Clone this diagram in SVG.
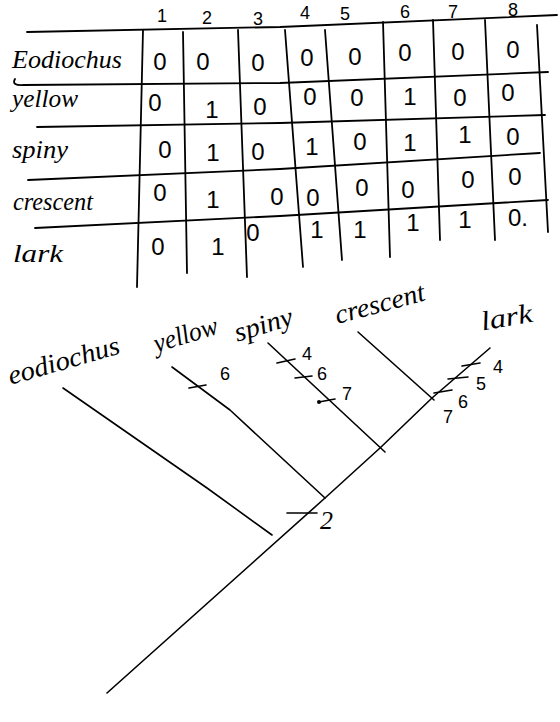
<svg xmlns="http://www.w3.org/2000/svg" width="560" height="722" viewBox="0 0 560 722">
<style>
.ln{fill:none;stroke:#000;stroke-width:1.8;stroke-linecap:round;stroke-linejoin:round}
.tr{fill:none;stroke:#000;stroke-width:1.6;stroke-linecap:round;stroke-linejoin:round}
.hw{font-family:"Liberation Serif","DejaVu Serif",serif;font-style:italic;fill:#000}
.lab{font-size:25px}
.dg{font-family:"Liberation Sans","DejaVu Sans",sans-serif;font-size:24px;fill:#000;text-anchor:middle}
.hd{font-family:"Liberation Sans","DejaVu Sans",sans-serif;font-size:18px;fill:#000;text-anchor:middle}
.tk{font-family:"Liberation Sans","DejaVu Sans",sans-serif;font-size:18px;fill:#000;text-anchor:middle}
</style>
<rect width="560" height="722" fill="#fff"/>
<g id="table">
  <g id="grid">
    <polyline class="ln" points="27,32 280,27 557,15"/>
    <path class="ln" d="M15,79 Q11,86 24,85 L280,83 L548,72"/>
    <polyline class="ln" points="37,127 280,123 545,115"/>
    <polyline class="ln" points="28,180 280,169 540,153"/>
    <polyline class="ln" points="35,228 280,216 548,200"/>
    <line class="ln" x1="143" y1="30" x2="137" y2="287"/>
    <line class="ln" x1="183" y1="32" x2="187" y2="273"/>
    <line class="ln" x1="238" y1="30" x2="247" y2="277"/>
    <line class="ln" x1="285" y1="30" x2="303" y2="267"/>
    <line class="ln" x1="325" y1="30" x2="342" y2="260"/>
    <line class="ln" x1="383" y1="22" x2="390" y2="257"/>
    <line class="ln" x1="433" y1="20" x2="440" y2="240"/>
    <line class="ln" x1="485" y1="20" x2="495" y2="240"/>
    <line class="ln" x1="537" y1="25" x2="548" y2="232"/>
  </g>
  <g id="header">
    <text class="hd" x="162" y="22">1</text>
    <text class="hd" x="207" y="24">2</text>
    <text class="hd" x="258" y="25">3</text>
    <text class="hd" x="305" y="19">4</text>
    <text class="hd" x="345" y="20">5</text>
    <text class="hd" x="405" y="18">6</text>
    <text class="hd" x="453" y="18">7</text>
    <text class="hd" x="513" y="16">8</text>
  </g>
  <g id="row-eodiochus">
    <text class="hw lab" x="12" y="68" textLength="110" lengthAdjust="spacingAndGlyphs">Eodiochus</text>
    <text class="dg" x="160" y="70">0</text><text class="dg" x="203" y="70">0</text><text class="dg" x="258" y="71">0</text><text class="dg" x="307" y="66">0</text><text class="dg" x="355" y="65">0</text><text class="dg" x="405" y="61">0</text><text class="dg" x="458" y="60">0</text><text class="dg" x="513" y="58">0</text>
  </g>
  <g id="row-yellow">
    <text class="hw lab" x="12" y="107" textLength="66" lengthAdjust="spacingAndGlyphs">yellow</text>
    <text class="dg" x="155" y="111">0</text><text class="dg" x="212" y="118">1</text><text class="dg" x="260" y="115">0</text><text class="dg" x="310" y="105">0</text><text class="dg" x="357" y="106">0</text><text class="dg" x="410" y="105">1</text><text class="dg" x="460" y="106">0</text><text class="dg" x="508" y="101">0</text>
  </g>
  <g id="row-spiny">
    <text class="hw lab" x="12" y="158" textLength="56" lengthAdjust="spacingAndGlyphs">spiny</text>
    <text class="dg" x="165" y="158">0</text><text class="dg" x="213" y="161">1</text><text class="dg" x="258" y="160">0</text><text class="dg" x="312" y="155">1</text><text class="dg" x="360" y="150">0</text><text class="dg" x="410" y="151">1</text><text class="dg" x="465" y="143">1</text><text class="dg" x="513" y="145">0</text>
  </g>
  <g id="row-crescent">
    <text class="hw lab" x="13" y="210" textLength="80" lengthAdjust="spacingAndGlyphs">crescent</text>
    <text class="dg" x="160" y="201">0</text><text class="dg" x="213" y="208">1</text><text class="dg" x="277" y="205">0</text><text class="dg" x="313" y="206">0</text><text class="dg" x="362" y="196">0</text><text class="dg" x="408" y="198">0</text><text class="dg" x="468" y="188">0</text><text class="dg" x="515" y="185">0</text>
  </g>
  <g id="row-lark">
    <text class="hw lab" x="13" y="262" textLength="50" lengthAdjust="spacingAndGlyphs">lark</text>
    <text class="dg" x="158" y="255">0</text><text class="dg" x="218" y="255">1</text><text class="dg" x="253" y="241">0</text><text class="dg" x="317" y="238">1</text><text class="dg" x="360" y="238">1</text><text class="dg" x="413" y="231">1</text><text class="dg" x="465" y="228">1</text><text class="dg" x="518" y="226">0.</text>
  </g>
</g>
<g id="connectors">
  <polyline class="tr" points="107,693 325,498 380,448 432,398 490,348"/>
  <polyline class="tr" points="63,388 207,488 272,535"/>
  <polyline class="tr" points="172,367 230,410 325,498"/>
  <line class="tr" x1="268" y1="343" x2="385" y2="452"/>
  <line class="tr" x1="358" y1="332" x2="434" y2="400"/>
</g>
<g id="node-eodiochus">
  <text class="hw" font-size="27" text-anchor="middle" transform="translate(66,369) rotate(-16)" textLength="115" lengthAdjust="spacingAndGlyphs">eodiochus</text>
</g>
<g id="node-yellow">
  <text class="hw" font-size="27" text-anchor="middle" transform="translate(188,343) rotate(-17)" textLength="66" lengthAdjust="spacingAndGlyphs">yellow</text>
  <line class="tr" x1="189" y1="388" x2="206" y2="385"/>
  <text class="tk" x="225" y="380">6</text>
</g>
<g id="node-spiny">
  <text class="hw" font-size="27" text-anchor="middle" transform="translate(266,333) rotate(-17)" textLength="60" lengthAdjust="spacingAndGlyphs">spiny</text>
  <line class="tr" x1="277" y1="363" x2="295" y2="359"/>
  <text class="tk" x="307" y="360">4</text>
  <line class="tr" x1="295" y1="378" x2="312" y2="376"/>
  <text class="tk" x="322" y="380">6</text>
  <line class="tr" x1="319" y1="402" x2="335" y2="399"/>
  <circle cx="319" cy="402" r="2" fill="#000"/>
  <text class="tk" x="347" y="400">7</text>
</g>
<g id="node-crescent">
  <text class="hw" font-size="27" text-anchor="middle" transform="translate(382,312) rotate(-15)" textLength="92" lengthAdjust="spacingAndGlyphs">crescent</text>
</g>
<g id="node-lark">
  <text class="hw" font-size="27" text-anchor="middle" transform="translate(508,326) rotate(-10)" textLength="52" lengthAdjust="spacingAndGlyphs">lark</text>
  <line class="tr" x1="462" y1="366" x2="480" y2="363"/>
  <text class="tk" x="498" y="373">4</text>
  <line class="tr" x1="448" y1="379" x2="468" y2="377"/>
  <text class="tk" x="481" y="390">5</text>
  <line class="tr" x1="434" y1="393" x2="452" y2="390"/>
  <text class="tk" x="463" y="408">6</text>
  <text class="tk" x="448" y="423">7</text>
</g>
<g id="node-root">
  <line class="tr" x1="287" y1="513" x2="317" y2="513"/>
  <text class="hw" font-size="26" x="320" y="529">2</text>
</g>
</svg>
